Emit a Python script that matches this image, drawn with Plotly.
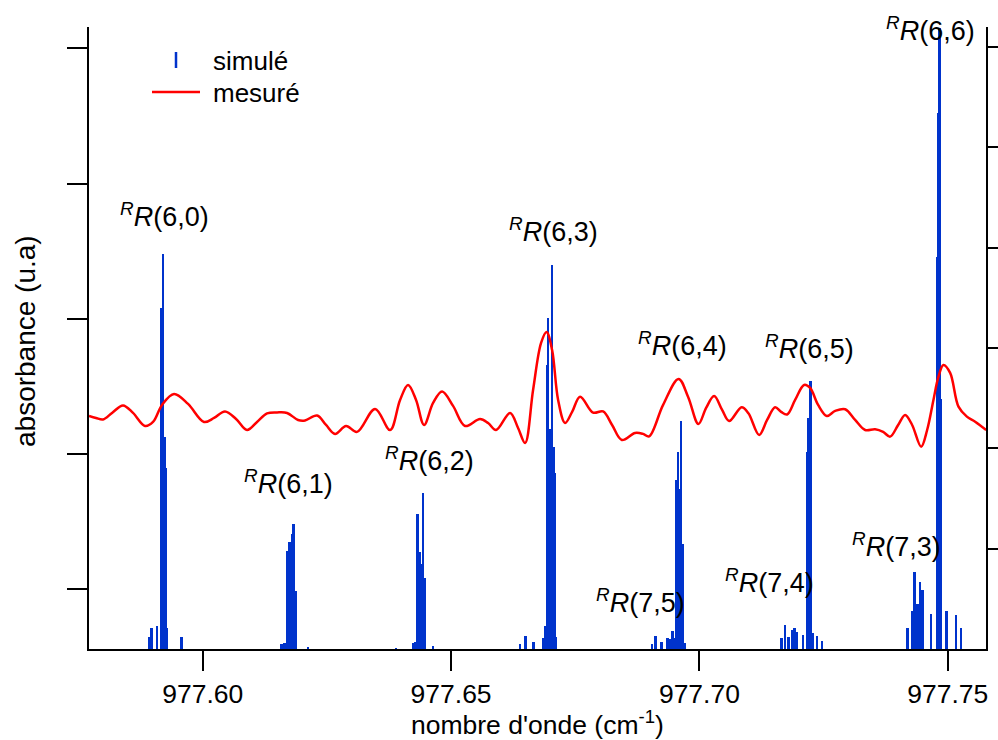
import plotly.graph_objects as go

# ---------------- data ----------------
# simulated stick spectrum (wavenumber in cm-1, relative intensity)
stick_wn = [
    # RR(6,0)
    977.58929, 977.58969, 977.59080, 977.59160, 977.59205, 977.59237, 977.59257, 977.59285, 977.59577,
    # RR(6,1)
    977.61591, 977.61647, 977.61714, 977.61752, 977.61782, 977.61804, 977.61828, 977.61869, 977.62120,
    # RR(6,2)
    977.63893, 977.64235, 977.64281, 977.64331, 977.64372, 977.64402, 977.64436, 977.64476, 977.64638,
    # RR(6,3)
    977.66394, 977.66500, 977.66661, 977.66859, 977.66903, 977.66933, 977.66953, 977.66988, 977.67010,
    977.67038, 977.67064, 977.67088, 977.67118,
    # RR(7,5) / RR(6,4)
    977.69048, 977.69118, 977.69243, 977.69366, 977.69414, 977.69460, 977.69501, 977.69545, 977.69575,
    977.69611, 977.69638, 977.69678, 977.69712,
    # RR(7,4) / RR(6,5)
    977.71655, 977.71726, 977.71796, 977.71877, 977.71917, 977.71957, 977.72088, 977.72169, 977.72199,
    977.72239, 977.72284, 977.72376, 977.72471,
    # RR(7,3) / RR(6,6)
    977.74199, 977.74293, 977.74338, 977.74394, 977.74444, 977.74495, 977.74666, 977.74791, 977.74807,
    977.74823, 977.74843, 977.74863, 977.74984, 977.75169, 977.75270,
]
stick_int = [
    0.12, 0.21, 0.23, 3.41, 3.95, 2.12, 1.81, 0.21, 0.12,
    0.05, 0.06, 0.98, 1.07, 0.95, 1.15, 1.25, 0.58, 0.02,
    0.01, 0.06, 0.07, 1.35, 0.97, 0.85, 1.56, 0.71, 0.03,
    0.05, 0.13, 0.07, 0.11, 0.23, 2.84, 3.31, 2.06, 2.20,
    3.84, 2.02, 1.76, 0.12,
    0.05, 0.13, 0.07, 0.11, 0.10, 0.18, 0.11, 1.69, 1.97,
    1.60, 2.28, 1.05, 0.06,
    0.11, 0.24, 0.12, 0.19, 0.21, 0.17, 0.14, 1.97, 2.31,
    2.68, 0.16, 0.13, 0.08,
    0.21, 0.38, 0.77, 0.45, 0.67, 0.59, 0.35, 3.92, 4.59,
    5.36, 6.21, 2.50, 0.38, 0.34, 0.21,
]

# measured spectrum
meas_wn = [
    977.57710, 977.57851, 977.57992, 977.58174, 977.58395, 977.58596, 977.58838, 977.58999, 977.59180,
    977.59422, 977.59704, 977.60026, 977.60228, 977.60449, 977.60671, 977.60892, 977.61093, 977.61295,
    977.61496, 977.61698, 977.61919, 977.62060, 977.62302, 977.62483, 977.62664, 977.62886, 977.63107,
    977.63470, 977.63772, 977.63973, 977.64134, 977.64295, 977.64456, 977.64638, 977.64819, 977.65040,
    977.65282, 977.65584, 977.65745, 977.65906, 977.66188, 977.66349, 977.66490, 977.66651, 977.66812,
    977.66923, 977.67034, 977.67155, 977.67296, 977.67437, 977.67598, 977.67859, 977.68061, 977.68242,
    977.68437, 977.68705, 977.68866, 977.68987, 977.69269, 977.69581, 977.69773, 977.69980, 977.70135,
    977.70296, 977.70457, 977.70598, 977.70850, 977.70987, 977.71202, 977.71363, 977.71524, 977.71645,
    977.71766, 977.71927, 977.72108, 977.72229, 977.72390, 977.72565, 977.72733, 977.72934, 977.73135,
    977.73337, 977.73538, 977.73699, 977.73840, 977.74001, 977.74142, 977.74283, 977.74464, 977.74585,
    977.74712, 977.74807, 977.74913, 977.75048, 977.75216, 977.75385, 977.75552, 977.75773,
]
meas_abs = [
    2.323, 2.303, 2.288, 2.353, 2.428, 2.353, 2.223, 2.263, 2.433,
    2.542, 2.443, 2.263, 2.303, 2.368, 2.293, 2.183, 2.263, 2.348,
    2.358, 2.353, 2.283, 2.278, 2.328, 2.233, 2.144, 2.223, 2.164,
    2.393, 2.183, 2.483, 2.632, 2.483, 2.233, 2.453, 2.567, 2.423,
    2.223, 2.293, 2.253, 2.183, 2.353, 2.203, 2.054, 2.582, 3.051,
    3.160, 2.981, 2.483, 2.253, 2.363, 2.515, 2.356, 2.368, 2.233,
    2.084, 2.154, 2.144, 2.119, 2.433, 2.692, 2.512, 2.243, 2.403,
    2.522, 2.383, 2.273, 2.410, 2.350, 2.134, 2.283, 2.410, 2.363,
    2.338, 2.483, 2.632, 2.602, 2.433, 2.323, 2.373, 2.390, 2.283,
    2.183, 2.190, 2.164, 2.117, 2.233, 2.333, 2.233, 2.017, 2.183,
    2.483, 2.702, 2.831, 2.752, 2.416, 2.316, 2.266, 2.183,
]

x_ticks = [977.60, 977.65, 977.70, 977.75]
x_tick_labels = ["977.60", "977.65", "977.70", "977.75"]

band_labels = ["6,0", "6,1", "6,2", "6,3", "6,4", "6,5", "7,5", "7,4", "7,3", "6,6"]

# ---------------- layout helpers (pixel placement) ----------------
W, H = 998, 740
L, R, T, B = 89, 986, 27, 649


def px(xp):
    return (xp - L) / (R - L)


def py(yp):
    return (B - yp) / (B - T)


label_pos = [(164, 215), (288, 482), (429, 459), (553, 230), (682, 344),
             (809, 347), (640, 601), (769, 581), (896, 545), (930, 29)]

FONT = "Liberation Sans, Arial, sans-serif"
BLUE = "#0033CC"
RED = "#FF0000"

fig = go.Figure()
fig.add_trace(go.Bar(
    x=stick_wn, y=stick_int, width=0.00040,
    marker=dict(color=BLUE, line=dict(width=0)),
    name="simulé", showlegend=False, yaxis="y",
))
fig.add_trace(go.Scatter(
    x=meas_wn, y=meas_abs, mode="lines",
    line=dict(color=RED, width=2.5, shape="spline", smoothing=1.0),
    name="mesuré", showlegend=False, yaxis="y2",
))

annotations = []
for (lx, ly), lab in zip(label_pos, band_labels):
    annotations.append(dict(
        x=px(lx), y=py(ly), xref="paper", yref="paper",
        text="<sup><i>R</i></sup><i>R</i>(" + lab + ")",
        showarrow=False, xanchor="center", yanchor="middle",
        font=dict(family=FONT, size=27, color="black"),
    ))
# legend texts
annotations.append(dict(x=px(211), y=py(61), xref="paper", yref="paper", text="simulé",
                        showarrow=False, xanchor="left", yanchor="middle",
                        font=dict(family=FONT, size=26, color="black")))
annotations.append(dict(x=px(211), y=py(93), xref="paper", yref="paper", text="mesuré",
                        showarrow=False, xanchor="left", yanchor="middle",
                        font=dict(family=FONT, size=26, color="black")))
# axis titles
annotations.append(dict(x=px(537), y=py(723), xref="paper", yref="paper",
                        text="nombre d'onde (cm<sup>-1</sup>)",
                        showarrow=False, xanchor="center", yanchor="middle",
                        font=dict(family=FONT, size=26.5, color="black")))
annotations.append(dict(x=px(25), y=py(341), xref="paper", yref="paper",
                        text="absorbance (u.a)", textangle=-90,
                        showarrow=False, xanchor="center", yanchor="middle",
                        font=dict(family=FONT, size=28, color="black")))

shapes = [
    dict(type="line", xref="paper", yref="paper", x0=px(176), x1=px(176), y0=py(52), y1=py(68),
         line=dict(color=BLUE, width=2.5)),
    dict(type="line", xref="paper", yref="paper", x0=px(152), x1=px(200), y0=py(92), y1=py(92),
         line=dict(color=RED, width=2.5)),
]

fig.update_layout(
    width=W, height=H, autosize=False,
    margin=dict(l=L, r=W - R, t=T, b=H - B, pad=0, autoexpand=False),
    paper_bgcolor="white", plot_bgcolor="white",
    font=dict(family=FONT, size=26, color="black"),
    bargap=0,
    showlegend=False,
    xaxis=dict(
        range=[977.5771, 977.7577], showgrid=False, zeroline=False,
        showline=True, linecolor="black", linewidth=2,
        ticks="outside", ticklen=20, tickwidth=2, tickcolor="black",
        tickvals=x_ticks, ticktext=x_tick_labels,
        tickfont=dict(family=FONT, size=26.5, color="black"),
        automargin=False,
    ),
    yaxis=dict(
        range=[0, 6.22], showgrid=False, zeroline=False,
        showline=True, linecolor="black", linewidth=2,
        ticks="outside", ticklen=20, tickwidth=2, tickcolor="black",
        tickvals=[0.599, 1.951, 3.303, 4.655, 6.007], showticklabels=False,
        automargin=False,
    ),
    yaxis2=dict(
        range=[0, 6.2], overlaying="y", side="right", showgrid=False, zeroline=False,
        showline=True, linecolor="black", linewidth=2,
        ticks="outside", ticklen=12, tickwidth=2, tickcolor="black",
        tickvals=[1, 2, 3, 4, 5, 6], showticklabels=False,
        automargin=False,
    ),
    annotations=annotations,
    shapes=shapes,
)

fig.write_html(
    "out.html",
    config={"displayModeBar": False, "responsive": False},
    post_script="document.body.style.margin='0';document.body.style.overflow='hidden';",
)
